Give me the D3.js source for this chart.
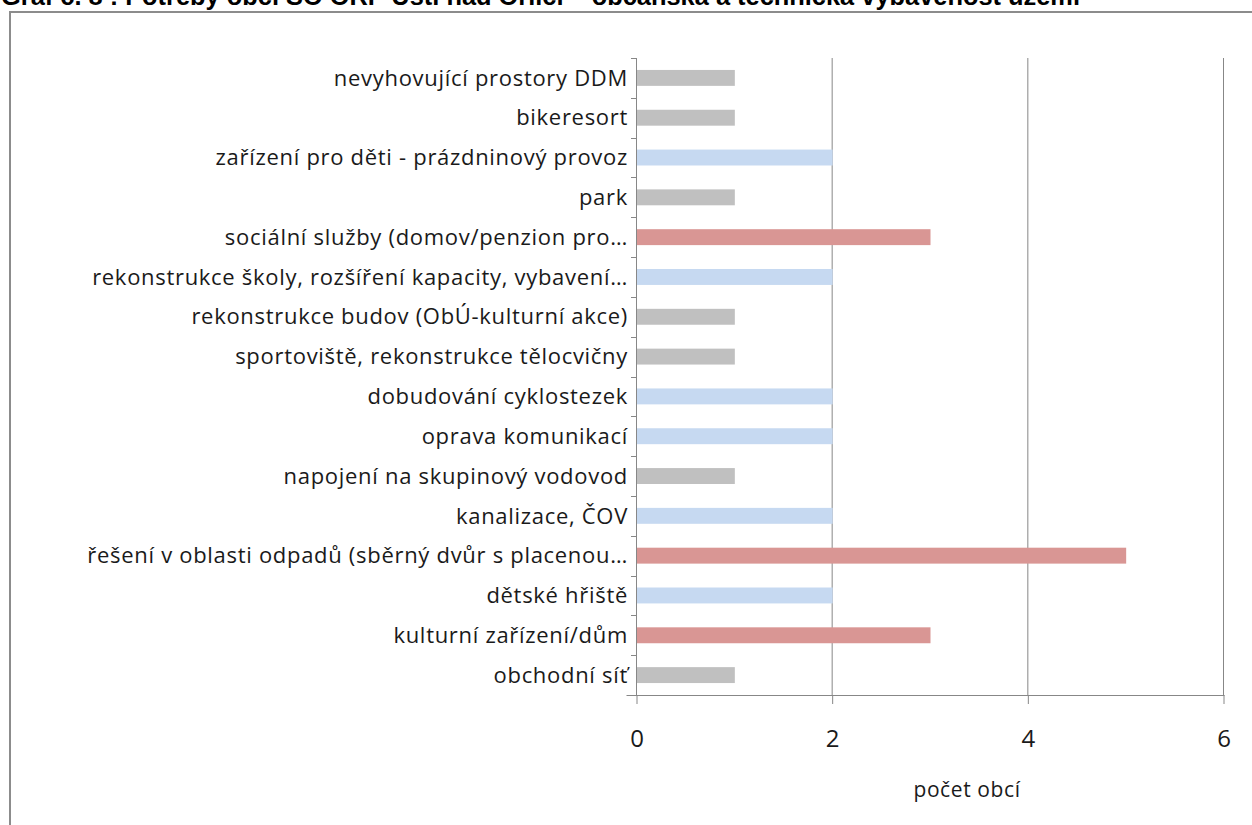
<!DOCTYPE html>
<html>
<head>
<meta charset="utf-8">
<script src="https://cdn.jsdelivr.net/npm/d3@7"></script>
<style>
  body { margin: 0; background: #fff; }
  text { font-family: "Open Sans", sans-serif; }
</style>
</head>
<body>
<svg id="chart" width="1252" height="825"></svg>
<script>
// categories top to bottom
const categories = [
  "nevyhovující prostory DDM",
  "bikeresort",
  "zařízení pro děti - prázdninový provoz",
  "park",
  "sociální služby (domov/penzion pro…",
  "rekonstrukce školy, rozšíření kapacity, vybavení…",
  "rekonstrukce budov (ObÚ-kulturní akce)",
  "sportoviště, rekonstrukce tělocvičny",
  "dobudování cyklostezek",
  "oprava komunikací",
  "napojení na skupinový vodovod",
  "kanalizace, ČOV",
  "řešení v oblasti odpadů (sběrný dvůr s placenou…",
  "dětské hřiště",
  "kulturní zařízení/dům",
  "obchodní síť"
];
const values = [1, 1, 2, 1, 3, 2, 1, 1, 2, 2, 1, 2, 5, 2, 3, 1];
const xTicks = [0, 2, 4, 6];
const title = "Graf č. 8 : Potřeby obcí SO ORP Ústí nad Orlicí – občanská a technická vybavenost území";
const xTitle = "počet obcí";

const svg = d3.select("#chart");

// outer frame (runs off the page to the right/bottom)
svg.append("rect")
  .attr("x", 10).attr("y", 12)
  .attr("width", 1300).attr("height", 900)
  .attr("fill", "none")
  .attr("stroke", "#8c8c8c")
  .attr("stroke-width", 2);

// title, cut off at the top edge
svg.append("text")
  .attr("x", 1).attr("y", 5)
  .style("font-family", "'Liberation Sans', Arial, sans-serif")
  .style("font-weight", "bold")
  .style("font-size", "25.4px")
  .attr("fill", "#000")
  .text(title);

const plotLeft = 636, plotRight = 1223, plotTop = 58, plotBottom = 695;

const x = d3.scaleLinear().domain([0, 6]).range([plotLeft, plotRight]);
const y = d3.scaleBand().domain(categories).range([plotTop, plotBottom]).paddingInner(0.6).paddingOuter(0.3);

function barColor(v) {
  if (v >= 3) return "#d99694";
  if (v == 2) return "#c6d9f1";
  return "#c0c0c0";
}

// gridlines
svg.append("g")
  .selectAll("line")
  .data(xTicks.filter(d => d > 0))
  .enter()
  .append("line")
  .attr("x1", d => x(d) + 0.5).attr("x2", d => x(d) + 0.5)
  .attr("y1", plotTop).attr("y2", plotBottom)
  .attr("stroke", "#878787")
  .attr("stroke-width", 1);

// bars
svg.append("g")
  .selectAll("rect")
  .data(categories)
  .enter()
  .append("rect")
  .attr("x", x(0) + 1)
  .attr("y", d => y(d))
  .attr("width", (d, i) => x(values[i]) - x(0))
  .attr("height", y.bandwidth())
  .attr("fill", (d, i) => barColor(values[i]));

// x axis
const xAxis = svg.append("g")
  .attr("transform", `translate(0.5,${plotBottom})`)
  .call(d3.axisBottom(x).tickValues(xTicks).tickFormat(d3.format("d")).tickSizeInner(9).tickSizeOuter(0).tickPadding(26));
xAxis.select(".domain").attr("stroke", "#878787").attr("d", `M${plotLeft - 10},0.5H${plotRight + 1}`);
xAxis.selectAll(".tick line").attr("stroke", "#878787");
xAxis.selectAll("text")
  .style("font-family", "'Open Sans', sans-serif")
  .style("font-size", "24px")
  .attr("fill", "#1a1a1a");

// y axis: ticks between categories
const boundaries = d3.range(categories.length + 1).map(i => plotTop + i * (plotBottom - plotTop) / categories.length);
svg.append("line")
  .attr("x1", plotLeft + 0.5).attr("x2", plotLeft + 0.5)
  .attr("y1", plotTop).attr("y2", plotBottom)
  .attr("stroke", "#878787");
svg.append("g")
  .selectAll("line")
  .data(boundaries)
  .enter()
  .append("line")
  .attr("x1", plotLeft - 5).attr("x2", plotLeft)
  .attr("y1", d => Math.round(d) + 0.5).attr("y2", d => Math.round(d) + 0.5)
  .attr("stroke", "#878787");

// category labels
svg.append("g")
  .selectAll("text")
  .data(categories)
  .enter()
  .append("text")
  .attr("x", plotLeft - 8)
  .attr("y", d => y(d) + y.bandwidth() / 2)
  .attr("dy", "0.35em")
  .attr("text-anchor", "end")
  .style("font-size", "22px")
  .style("letter-spacing", "0.7px")
  .attr("fill", "#1a1a1a")
  .text(d => d);

// axis title
svg.append("text")
  .attr("x", 967).attr("y", 797)
  .attr("text-anchor", "middle")
  .style("font-size", "21px")
  .style("letter-spacing", "0.6px")
  .attr("fill", "#1a1a1a")
  .text(xTitle);
</script>
</body>
</html>
